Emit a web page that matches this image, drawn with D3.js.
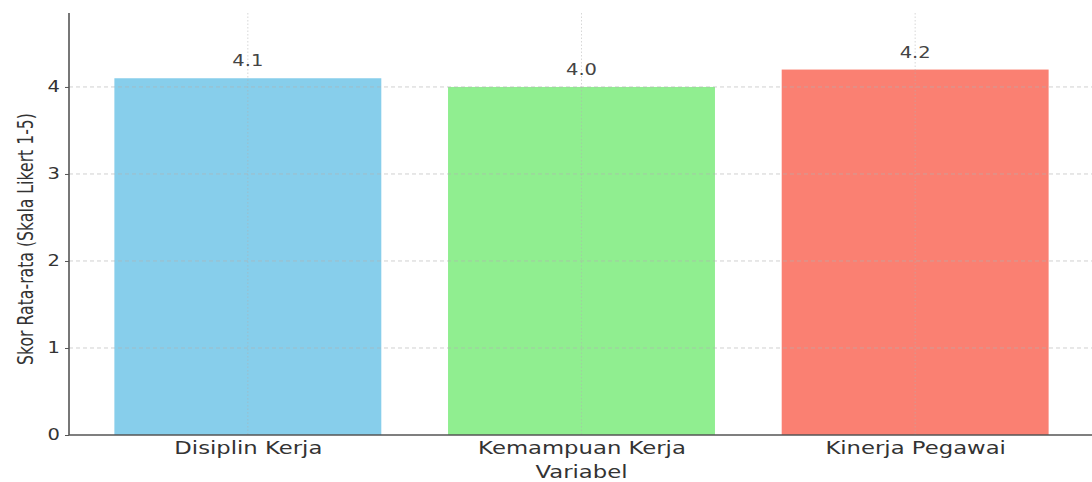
<!DOCTYPE html>
<html>
<head>
<meta charset="utf-8">
<script src="https://cdn.jsdelivr.net/npm/d3@7"></script>
<style>
  body { margin: 0; background: #fff; }
  text { font-family: "DejaVu Sans", sans-serif; }
</style>
</head>
<body>
<svg id="chart" width="1092" height="482"></svg>
<script>
const categories = ["Disiplin Kerja", "Kemampuan Kerja", "Kinerja Pegawai"];
const scores = [4.1, 4.0, 4.2];
const barColors = ["#87CEEB", "#90EE90", "#FA8072"];
const yTicks = [0, 1, 2, 3, 4];

const svg = d3.select("#chart");
const plotLeft = 69, plotTop = 13, plotBottom = 435;
const stretch = 1.3; // the source image is widened horizontally

const x = d3.scaleLinear().domain([-0.536, 2.536]).range([plotLeft, 1094]);
const y = d3.scaleLinear().domain([0, 4.85]).range([plotBottom, plotTop]);
const step = x(1) - x(0);

// bars
svg.selectAll(".bar")
   .data(scores)
   .enter().append("rect")
   .attr("class", "bar")
   .attr("x", (d, i) => x(i - 0.4))
   .attr("width", 0.8 * step)
   .attr("y", d => y(d))
   .attr("height", d => y(0) - y(d))
   .attr("fill", (d, i) => barColors[i]);

// grid over bars
svg.selectAll(".hgrid")
   .data(yTicks.slice(1))
   .enter().append("line")
   .attr("class", "hgrid")
   .attr("x1", plotLeft).attr("x2", 1092)
   .attr("y1", d => y(d)).attr("y2", d => y(d))
   .attr("stroke", "#b0b0b0")
   .attr("stroke-opacity", 0.6)
   .attr("stroke-dasharray", "4,3")
   .attr("stroke-width", 1);

svg.selectAll(".vgrid")
   .data(categories)
   .enter().append("line")
   .attr("class", "vgrid")
   .attr("x1", (d, i) => x(i)).attr("x2", (d, i) => x(i))
   .attr("y1", plotTop).attr("y2", plotBottom)
   .attr("stroke", "#b0b0b0")
   .attr("stroke-opacity", 0.5)
   .attr("stroke-dasharray", "1.5,2")
   .attr("stroke-width", 1);

// value labels
svg.selectAll(".label")
   .data(scores)
   .enter().append("text")
   .attr("class", "label")
   .attr("transform", (d, i) => `translate(${x(i)},${y(d) - 12}) scale(${stretch},1)`)
   .attr("text-anchor", "middle")
   .attr("fill", "#444")
   .style("font-size", "15px")
   .text(d => d.toFixed(1));

// y axis
const yAxis = svg.append("g")
   .attr("transform", `translate(${plotLeft},0)`)
   .call(d3.axisLeft(y).tickValues(yTicks).tickSize(4).tickPadding(3).tickFormat(d3.format("d")));
yAxis.select(".domain").attr("stroke", "#555").attr("stroke-width", 1.6).attr("d", `M0,${plotTop}V${plotBottom}`);
yAxis.selectAll(".tick line").attr("stroke", "#555");
yAxis.selectAll(".tick text")
   .attr("fill", "#333")
   .attr("transform", `scale(${stretch},1)`)
   .style("font-size", "15px")
   .attr("font-family", "DejaVu Sans");

// x axis
const xAxis = svg.append("g")
   .attr("transform", `translate(0,${plotBottom})`)
   .call(d3.axisBottom(x).tickValues([0, 1, 2]).tickSize(0).tickFormat(i => categories[i]));
xAxis.select(".domain").attr("stroke", "#555").attr("stroke-width", 1.6).attr("d", `M${plotLeft},0H1092`);
xAxis.selectAll(".tick text")
   .attr("y", 19).attr("dy", null)
   .attr("fill", "#333")
   .attr("transform", `scale(${stretch},1)`)
   .style("font-size", "17.5px")
   .attr("font-family", "DejaVu Sans");

// axis titles
svg.append("text")
   .attr("transform", `translate(${x(1)},478) scale(${stretch},1)`)
   .attr("text-anchor", "middle")
   .attr("fill", "#333")
   .style("font-size", "17.5px")
   .text("Variabel");

svg.append("text")
   .attr("transform", `translate(33,239) scale(${stretch},1) rotate(-90)`)
   .attr("text-anchor", "middle")
   .attr("fill", "#333")
   .style("font-size", "15.7px")
   .text("Skor Rata-rata (Skala Likert 1-5)");
</script>
</body>
</html>
